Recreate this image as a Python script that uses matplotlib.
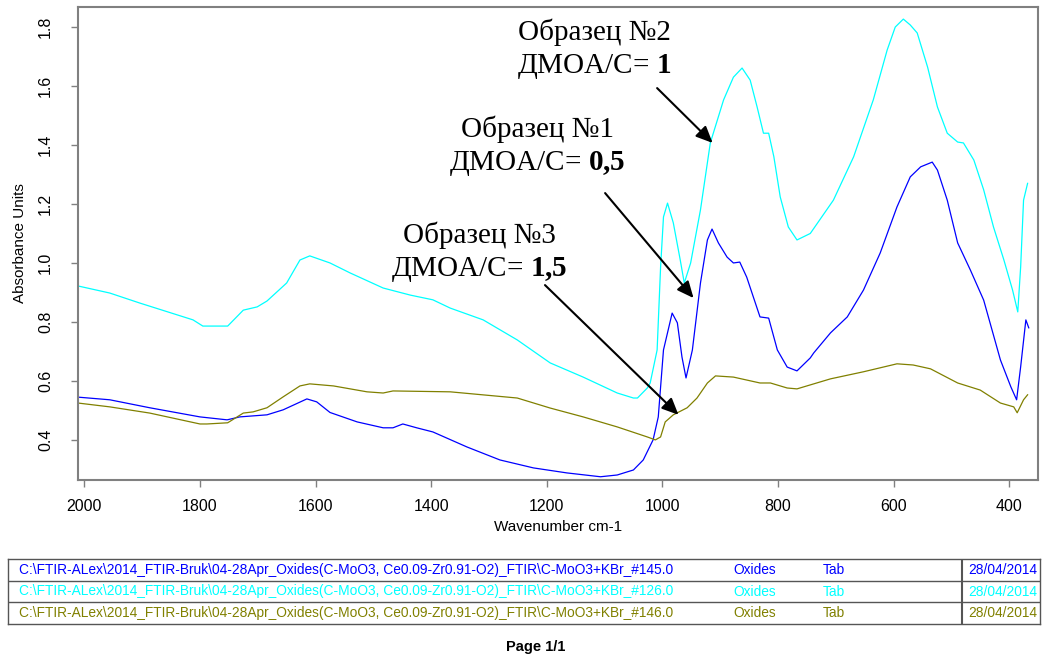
import matplotlib
matplotlib.use("Agg")
import matplotlib.pyplot as plt

# sample 1 (blue), DMOA/C = 0.5
wn_s1 = [2011, 1956, 1887, 1800, 1753, 1731, 1684, 1656, 1615, 1598, 1575, 1528, 1483, 1466,
         1449, 1425, 1397, 1338, 1281, 1223, 1165, 1107, 1078, 1050, 1033, 1016, 1007, 998,
         983, 974, 966, 959, 948, 934, 922, 914, 903, 888, 877, 866, 854, 831, 816, 801, 784,
         767, 744, 738, 709, 680, 652, 623, 594, 571, 553, 533, 524, 507, 489, 467, 444, 415,
         397, 387, 380, 371, 366]
abs_s1 = [0.545, 0.536, 0.509, 0.478, 0.468, 0.478, 0.485, 0.502, 0.539, 0.529, 0.493, 0.461,
          0.441, 0.441, 0.454, 0.441, 0.427, 0.376, 0.332, 0.305, 0.288, 0.275, 0.281, 0.298,
          0.332, 0.400, 0.478, 0.705, 0.830, 0.797, 0.681, 0.610, 0.705, 0.932, 1.078, 1.115,
          1.068, 1.020, 1.000, 1.003, 0.952, 0.817, 0.813, 0.705, 0.647, 0.634, 0.678, 0.695,
          0.763, 0.817, 0.908, 1.034, 1.190, 1.292, 1.326, 1.342, 1.315, 1.213, 1.068, 0.976,
          0.874, 0.671, 0.580, 0.536, 0.648, 0.807, 0.780]

# sample 2 (cyan), DMOA/C = 1
wn_s2 = [2011, 1956, 1904, 1812, 1795, 1752, 1725, 1701, 1684, 1650, 1627, 1610, 1575, 1540,
         1483, 1436, 1397, 1367, 1310, 1251, 1194, 1137, 1078, 1050, 1043, 1026, 1021, 1009,
         1003, 998, 991, 981, 969, 962, 951, 934, 917, 894, 877, 862, 848, 836, 825, 816, 807,
         796, 782, 767, 744, 704, 669, 635, 611, 597, 583, 571, 559, 541, 524, 507, 489, 479,
         461, 444, 427, 409, 394, 385, 380, 375, 368]
abs_s2 = [0.922, 0.898, 0.864, 0.807, 0.786, 0.786, 0.840, 0.851, 0.871, 0.932, 1.010, 1.024,
          1.000, 0.966, 0.915, 0.891, 0.875, 0.847, 0.807, 0.739, 0.661, 0.613, 0.559, 0.542,
          0.542, 0.576, 0.593, 0.705, 0.986, 1.156, 1.203, 1.136, 1.010, 0.932, 1.000, 1.180,
          1.407, 1.553, 1.630, 1.661, 1.620, 1.529, 1.440, 1.440, 1.360, 1.224, 1.122, 1.078,
          1.100, 1.213, 1.360, 1.553, 1.722, 1.800, 1.827, 1.807, 1.780, 1.664, 1.529, 1.440,
          1.410, 1.407, 1.349, 1.248, 1.122, 1.010, 0.908, 0.834, 0.987, 1.213, 1.270]

# sample 3 (olive), DMOA/C = 1.5
wn_s3 = [2011, 1956, 1887, 1800, 1788, 1752, 1725, 1708, 1684, 1656, 1627, 1610, 1569, 1511,
         1483, 1466, 1367, 1251, 1194, 1137, 1078, 1026, 1012, 1003, 995, 981, 957, 940, 922,
         908, 877, 854, 831, 813, 784, 767, 709, 652, 594, 566, 536, 489, 450, 415, 392, 386,
         375, 368]
abs_s3 = [0.525, 0.512, 0.491, 0.454, 0.454, 0.458, 0.491, 0.495, 0.509, 0.546, 0.583, 0.590,
          0.583, 0.563, 0.559, 0.566, 0.563, 0.542, 0.508, 0.478, 0.444, 0.410, 0.400, 0.410,
          0.461, 0.485, 0.509, 0.542, 0.593, 0.617, 0.613, 0.603, 0.593, 0.593, 0.576, 0.573,
          0.607, 0.631, 0.658, 0.654, 0.641, 0.593, 0.569, 0.525, 0.512, 0.492, 0.536, 0.553]

colors = ["#0000ff", "#00ffff", "#808000"]

xticks = [2000, 1800, 1600, 1400, 1200, 1000, 800, 600, 400]
yticks = [0.4, 0.6, 0.8, 1.0, 1.2, 1.4, 1.6, 1.8]

# annotation: label lines, text centre, arrow start, arrow tip (data coords)
labels = [
    ("Образец №2", "ДМОА/С= $\\mathbf{1}$"),
    ("Образец №1", "ДМОА/С= $\\mathbf{0{,}5}$"),
    ("Образец №3", "ДМОА/С= $\\mathbf{1{,}5}$"),
]
label_xy = [(1118, 1.724), (1216, 1.395), (1317, 1.036)]
arrow_from = [(1009, 1.593), (1099, 1.237), (1203, 0.925)]
arrow_to = [(913, 1.407), (946, 0.881), (972, 0.485)]

rows = [
    r"C:\FTIR-ALex\2014_FTIR-Bruk\04-28Apr_Oxides(C-MoO3, Ce0.09-Zr0.91-O2)_FTIR\C-MoO3+KBr_#145.0",
    r"C:\FTIR-ALex\2014_FTIR-Bruk\04-28Apr_Oxides(C-MoO3, Ce0.09-Zr0.91-O2)_FTIR\C-MoO3+KBr_#126.0",
    r"C:\FTIR-ALex\2014_FTIR-Bruk\04-28Apr_Oxides(C-MoO3, Ce0.09-Zr0.91-O2)_FTIR\C-MoO3+KBr_#146.0",
]
row_colors = [colors[0], colors[1], colors[2]]

plt.rcParams["font.family"] = ["Liberation Sans", "DejaVu Sans"]
plt.rcParams["mathtext.fontset"] = "custom"
plt.rcParams["mathtext.rm"] = "Liberation Serif"
plt.rcParams["mathtext.bf"] = "Liberation Serif:bold"

fig = plt.figure(figsize=(10.42, 6.55), dpi=100)
ax = fig.add_axes([78 / 1042, 1 - 480 / 655, 960 / 1042, 473 / 655])

ax.plot(wn_s2, abs_s2, color=colors[1], lw=0.9)
ax.plot(wn_s1, abs_s1, color=colors[0], lw=0.9)
ax.plot(wn_s3, abs_s3, color=colors[2], lw=0.9)

ax.set_xlim(2011, 350)
ax.set_ylim(0.264, 1.868)
ax.set_xticks(xticks)
ax.set_xticklabels([str(t) for t in xticks])
ax.set_yticks(yticks)
ax.set_yticklabels([f"{t:.1f}" for t in yticks], rotation=90, va="center")
for s in ax.spines.values():
    s.set_color("#808080")
    s.set_linewidth(1.5)
ax.tick_params(colors="#808080", labelcolor="black", labelsize=11.5, length=5, width=1)
ax.tick_params(axis="x", pad=9)
ax.tick_params(axis="y", pad=13)
ax.set_xlabel("Wavenumber cm-1", fontsize=11, labelpad=4)
ax.set_ylabel("Absorbance Units", fontsize=11, labelpad=8)

for (l1, l2), (tx, ty), (fx, fy), (px, py) in zip(labels, label_xy, arrow_from, arrow_to):
    ax.text(tx, ty, l1 + "\n" + l2, ha="center", va="center", fontsize=21,
            family="Liberation Serif", linespacing=1.28)
    ax.annotate("", xy=(px, py), xytext=(fx, fy),
                arrowprops=dict(arrowstyle="-|>,head_length=1.0,head_width=0.45",
                                color="black", lw=1.5, shrinkA=0, shrinkB=0))

# info table under the plot
tab = fig.add_axes([8 / 1042, 1 - 624 / 655, 1032 / 1042, 65 / 655])
tab.set_xlim(0, 1032)
tab.set_ylim(3, 0)
tab.set_xticks([])
tab.set_yticks([])
for s in tab.spines.values():
    s.set_color("#555555")
    s.set_linewidth(1)
tab.axhline(1, color="#555555", lw=1)
tab.axhline(2, color="#555555", lw=1)
tab.axvline(954, color="#555555", lw=1.5)
for i, (path, c) in enumerate(zip(rows, row_colors)):
    y = i + 0.5
    tab.text(11, y, path, color=c, fontsize=9.9, va="center")
    tab.text(725, y, "Oxides", color=c, fontsize=9.9, va="center")
    tab.text(815, y, "Tab", color=c, fontsize=9.9, va="center")
    tab.text(960, y, "28/04/2014", color=c, fontsize=9.9, va="center")

fig.text(536 / 1042, 1 - 647 / 655, "Page 1/1", ha="center", va="center",
         fontsize=10.5, fontweight="bold")

fig.savefig("out.png", dpi=100)
